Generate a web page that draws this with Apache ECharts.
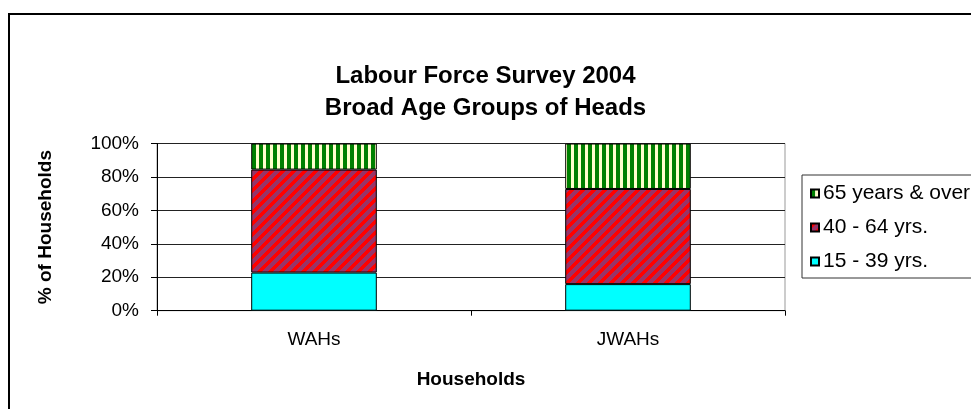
<!DOCTYPE html>
<html>
<head>
<meta charset="utf-8">
<script src="https://cdn.jsdelivr.net/npm/echarts@6/dist/echarts.min.js"></script>
<style>
html,body{margin:0;padding:0;background:#fff;}
#chart{width:971px;height:409px;}
</style>
</head>
<body>
<div id="chart"></div>
<script>
// ---- data ----
var categories = ['WAHs', 'JWAHs'];
var young = [22.8, 15.9];      // 15 - 39 yrs.
var middle = [61.6, 56.9];     // 40 - 64 yrs.
var old = [15.6, 27.2];        // 65 years & over
var seriesNames = ['15 - 39 yrs.', '40 - 64 yrs.', '65 years & over'];
var titleLines = ['Labour Force Survey 2004', 'Broad Age Groups of Heads'];

var FONT = "'Liberation Sans', Arial, sans-serif";

function stripePattern() {
  var c = document.createElement('canvas');
  c.width = 7; c.height = 7;
  var g = c.getContext('2d');
  g.fillStyle = '#FFFFCC'; g.fillRect(0, 0, 7, 7);
  g.fillStyle = '#008000'; g.fillRect(0, 0, 4, 7);
  return c;
}
function diagPattern() {
  var n = 11;
  var c = document.createElement('canvas');
  c.width = n; c.height = n;
  var g = c.getContext('2d');
  for (var x = 0; x < n; x++) {
    for (var y = 0; y < n; y++) {
      g.fillStyle = ((x + y) % n) < 5 ? '#FF0000' : '#993366';
      g.fillRect(x, y, 1, 1);
    }
  }
  return c;
}

var chart = echarts.init(document.getElementById('chart'), null, {renderer: 'canvas'});
var option = {
  animation: false,
  backgroundColor: '#fff',
  textStyle: {fontFamily: FONT},
  title: {
    text: titleLines.join('\n'),
    left: 'center',
    top: 55,
    textStyle: {fontFamily: FONT, fontSize: 24, fontWeight: 'bold', color: '#000', lineHeight: 32}
  },
  legend: {
    orient: 'vertical',
    left: 802,
    top: 175,
    padding: [8, 14, 6, 8],
    itemGap: 13,
    itemWidth: 8,
    itemHeight: 8,
    icon: 'rect',
    borderColor: '#333',
    borderWidth: 1,
    data: [seriesNames[2], seriesNames[1], seriesNames[0]],
    textStyle: {fontFamily: FONT, fontSize: 21, color: '#000', padding: [0, 0, 0, -1]}
  },
  grid: {
    left: 157, right: 186, top: 143.5, bottom: 98.3,
    show: true, borderColor: '#999', borderWidth: 1, backgroundColor: '#fff'
  },
  xAxis: {
    type: 'category',
    data: categories,
    name: 'Households',
    nameLocation: 'middle',
    nameGap: 60,
    nameTextStyle: {fontFamily: FONT, fontSize: 19, fontWeight: 'bold', color: '#000'},
    axisLine: {lineStyle: {color: '#000', width: 1}},
    axisTick: {show: true, length: 5, lineStyle: {color: '#000'}},
    axisLabel: {fontFamily: FONT, fontSize: 19, color: '#000', margin: 20}
  },
  yAxis: {
    type: 'value',
    min: 0, max: 100, interval: 20,
    name: '% of Households',
    nameLocation: 'middle',
    nameRotate: 90,
    nameGap: 102,
    nameTextStyle: {fontFamily: FONT, fontSize: 19, fontWeight: 'bold', color: '#000'},
    axisLine: {show: true, lineStyle: {color: '#000', width: 1}},
    axisTick: {show: true, length: 6, lineStyle: {color: '#000'}},
    axisLabel: {fontFamily: FONT, fontSize: 19, color: '#000', margin: 18, formatter: '{value}%'},
    splitLine: {show: true, lineStyle: {color: '#222', width: 1}}
  },
  graphic: [{
    type: 'rect',
    shape: {x: 9, y: 14, width: 1000, height: 500},
    style: {fill: 'none', stroke: '#000', lineWidth: 2},
    z: 100, silent: true
  }],
  series: [
    {name: seriesNames[0], type: 'bar', stack: 'a', barWidth: '40%', data: young,
     itemStyle: {color: '#00FFFF', borderColor: '#000', borderWidth: 1}},
    {name: seriesNames[1], type: 'bar', stack: 'a', barWidth: '40%', data: middle,
     itemStyle: {color: {image: diagPattern(), repeat: 'repeat'}, borderColor: '#000', borderWidth: 1}},
    {name: seriesNames[2], type: 'bar', stack: 'a', barWidth: '40%', data: old,
     itemStyle: {color: {image: stripePattern(), repeat: 'repeat'}, borderColor: '#000', borderWidth: 1}}
  ]
};
chart.setOption(option);
</script>
</body>
</html>
